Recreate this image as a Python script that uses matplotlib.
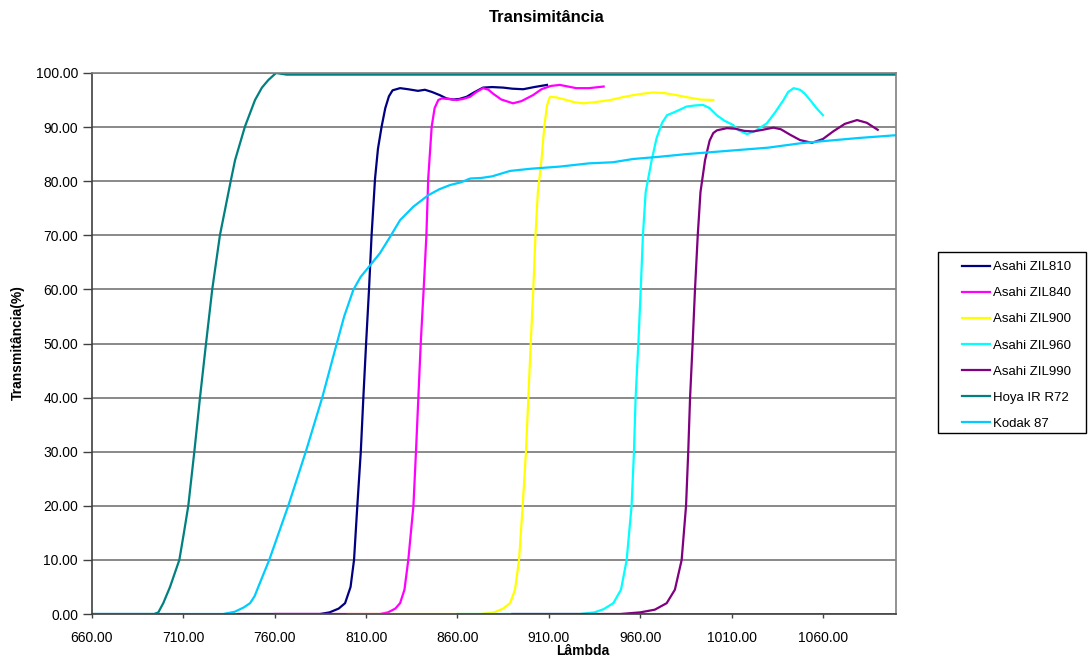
import matplotlib
matplotlib.use("Agg")
import matplotlib.pyplot as plt
import matplotlib.patches as patches

plt.rcParams['font.family'] = ['Liberation Sans', 'DejaVu Sans']

# dados (comprimento de onda em nm, transmitancia em %)
zil810_x = [740, 784.8, 790, 795, 798.5, 801.5, 803.4, 805.2, 807.1, 808.5, 810, 811.6, 813, 814.9, 816.5,
            818.5, 820.5, 822.5, 824.5, 828.6, 833, 838.4, 842.2, 846, 850.4, 854, 857.6, 861, 865, 869,
            874, 879, 885, 890, 896, 902, 909]
zil810_y = [0, 0, 0.3, 1, 2, 5, 10, 20, 30, 40, 50, 60, 70, 80.5, 86,
            90.1, 93.5, 95.7, 96.8, 97.2, 97.0, 96.7, 96.9, 96.5, 95.9, 95.3, 95.1, 95.2, 95.6, 96.4,
            97.3, 97.4, 97.3, 97.1, 97.0, 97.4, 97.8]

zil840_x = [760, 817.6, 822, 826, 828.6, 831, 833.1, 835.9, 837.3, 838.6, 839.9, 841.5, 843, 844, 845.9,
            847.5, 849.5, 851.4, 855, 859.6, 863, 866.9, 870, 874, 877, 879.4, 884, 890.4, 895, 901.3,
            906, 911, 916, 925, 932, 940]
zil840_y = [0, 0, 0.3, 1, 2, 4.5, 10, 20, 30, 40, 50, 60, 70, 80.5, 90.1,
            93.5, 95.0, 95.3, 95.2, 95.0, 95.2, 95.6, 96.4, 97.2, 96.9, 96.2, 95.1, 94.4, 94.8, 95.9,
            97.0, 97.6, 97.8, 97.2, 97.2, 97.5]

zil900_x = [800, 872.3, 880, 885, 888.8, 891.5, 893.7, 895.7, 897.5, 898.8, 900.1, 901.5, 902.7, 904, 906,
            907.5, 909, 910.6, 914, 919.8, 924, 928.7, 935, 943.5, 950, 956, 962, 967, 973, 980,
            986, 992.7, 1000]
zil900_y = [0, 0, 0.3, 1, 2, 4.5, 10, 20, 30, 40, 50, 60, 70, 78, 84,
            90, 94, 95.6, 95.5, 95.0, 94.6, 94.4, 94.6, 95.0, 95.5, 95.9, 96.2, 96.4, 96.3, 95.9,
            95.5, 95.1, 95.0]

zil960_x = [860, 927, 935, 940, 945.3, 949.5, 952.6, 955.3, 956.6, 957.5, 959, 960.3, 961.5, 963, 966.3,
            969, 972, 974.7, 979, 985.4, 990, 994.4, 998, 1001.9, 1006, 1010.8, 1014, 1018.5, 1023, 1029.3,
            1034, 1038.4, 1041, 1044, 1047.5, 1050, 1053, 1056.5, 1060]
zil960_y = [0, 0, 0.3, 0.9, 2, 4.5, 10, 20, 30, 40, 50, 60, 70, 78, 83.9,
            88, 90.8, 92.2, 92.8, 93.8, 94.0, 94.1, 93.5, 92.2, 91.2, 90.4, 89.4, 88.7, 89.3, 90.7,
            92.8, 95.0, 96.5, 97.2, 96.9, 96.2, 95.0, 93.5, 92.2]

zil990_x = [890, 949, 960, 968, 974.5, 979, 982.7, 985.1, 986.3, 987.3, 988.7, 990, 991.5, 993, 995.5,
            998, 1000, 1002, 1007.4, 1012, 1017, 1021.9, 1027, 1032.9, 1037, 1042, 1047.5, 1054, 1060, 1065.6,
            1072, 1078.7, 1084, 1090]
zil990_y = [0, 0, 0.3, 0.8, 2, 4.5, 10, 20, 30, 40, 50, 60, 70, 78, 83.9,
            87.5, 88.9, 89.4, 89.8, 89.7, 89.3, 89.2, 89.5, 89.9, 89.6, 88.6, 87.6, 87.1, 87.8, 89.2,
            90.6, 91.3, 90.8, 89.5]

hoya_x = [660, 694, 696.3, 699, 702.7, 707.8, 710.3, 712.7, 716, 719.1, 722.4, 725.8, 730, 735.9, 738.3,
          743.7, 749.2, 753, 756.5, 760.7, 766.5, 1100]
hoya_y = [0, 0, 0.3, 2, 5, 10, 15, 20, 30, 40, 50, 60, 70, 80, 83.9,
          90.1, 95.0, 97.3, 98.7, 100, 99.7, 99.7]

kodak_x = [660, 731.7, 738, 743, 746.5, 749, 751, 754, 757, 767.4, 777, 786, 793, 798, 803, 807,
           811.6, 817.6, 823.1, 828.6, 835.9, 844, 850, 856, 862, 867, 873, 879, 888.8, 900,
           916, 932, 945, 956, 970, 985, 1000, 1015, 1030, 1047.5, 1060, 1080, 1100]
kodak_y = [0, 0, 0.4, 1.2, 2, 3.3, 5, 7.5, 10, 20, 30, 40, 48.8, 55, 59.9, 62.3,
           64.2, 66.7, 69.7, 72.8, 75.3, 77.4, 78.5, 79.3, 79.8, 80.5, 80.6, 80.9, 81.9, 82.3,
           82.7, 83.3, 83.5, 84.1, 84.5, 85.0, 85.4, 85.8, 86.2, 87.0, 87.4, 88.0, 88.5]

series_names = ['Asahi ZIL810', 'Asahi ZIL840', 'Asahi ZIL900', 'Asahi ZIL960',
                'Asahi ZIL990', 'Hoya IR R72', 'Kodak 87']
series_colors = ['#000080', '#ff00ff', '#ffff00', '#00ffff', '#800080', '#008080', '#00ccff']
x_ticks = [660, 710, 760, 810, 860, 910, 960, 1010, 1060]
y_ticks = [0, 10, 20, 30, 40, 50, 60, 70, 80, 90, 100]

fig = plt.figure(figsize=(10.88, 6.57), dpi=100)
ax = fig.add_axes([92/1088, 43/657, 804/1088, 541/657])

dados = [(zil810_x, zil810_y), (zil840_x, zil840_y), (zil900_x, zil900_y), (zil960_x, zil960_y),
         (zil990_x, zil990_y), (hoya_x, hoya_y), (kodak_x, kodak_y)]
for (xs, ys), nome, cor in zip(dados, series_names, series_colors):
    ax.plot(xs, ys, color=cor, lw=1.6, label=nome, solid_joinstyle='round')

ax.set_xlim(660, 1100)
ax.set_ylim(0, 100)
ax.set_xticks(x_ticks)
ax.set_xticklabels([f'{v:.2f}' for v in x_ticks])
ax.set_yticks(y_ticks)
ax.set_yticklabels([f'{v:.2f}' for v in y_ticks])
ax.yaxis.grid(True, color='#808080', lw=1.3)
ax.set_axisbelow(True)
ax.tick_params(axis='y', direction='out', length=6.5, width=1, pad=3.5, labelsize=10, color='#404040')
ax.tick_params(axis='x', direction='out', length=3, width=1, pad=9, labelsize=10, color='#404040')
ax.spines['left'].set_color('#404040')
ax.spines['bottom'].set_color('#404040')
ax.spines['right'].set_color('#808080')
ax.spines['top'].set_color('#808080')
for s in ax.spines.values():
    s.set_linewidth(1.2)

fig.text(547/1088, 1 - 17/657, 'Transimitância', ha='center', va='center', fontsize=12, fontweight='bold')
fig.text(583/1088, 1 - 651/657, 'Lâmbda', ha='center', va='center', fontsize=10, fontweight='bold')
fig.text(18/1088, 1 - 343/657, 'Transmitância(%)', ha='center', va='center', rotation=90,
         fontsize=10, fontweight='bold')

# moldura da legenda
moldura = patches.Rectangle((938/1088, 1 - 433/657), 148/1088, 181/657, transform=fig.transFigure,
                            facecolor='white', edgecolor='black', lw=1)
fig.patches.append(moldura)
fig.legend(loc='upper left', bbox_to_anchor=(962/1088, 1 - 261/657), frameon=False, fontsize=9.5,
           borderpad=0, borderaxespad=0, handlelength=2.1, handletextpad=0.25, labelspacing=1.05)

fig.savefig('out.png', dpi=100)
